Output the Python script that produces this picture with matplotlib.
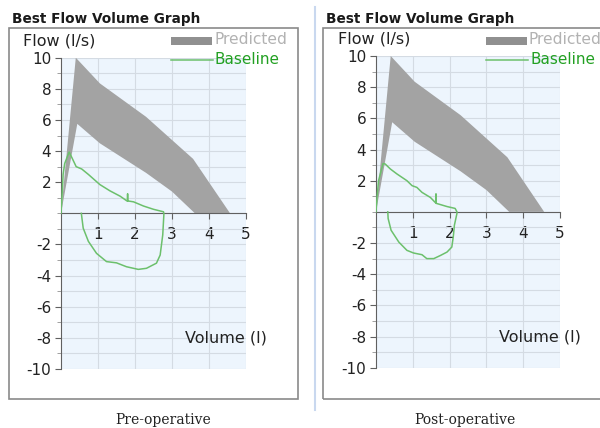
import numpy as np
import matplotlib.pyplot as plt
from matplotlib.patches import Rectangle
from matplotlib.lines import Line2D
from matplotlib.ticker import MultipleLocator, FixedLocator

# predicted band (same for both panels)
pred_upper_vol = [0.0, 0.40, 1.05, 2.30, 3.57, 4.57]
pred_upper_flow = [0.0, 10.0, 8.35, 6.2, 3.5, 0.0]
pred_lower_vol = [0.0, 0.44, 1.05, 2.30, 3.00, 3.62]
pred_lower_flow = [0.0, 5.75, 4.5, 2.6, 1.4, 0.0]

# baseline loops
pre_vol = [0.0, 0.03, 0.057, 0.10, 0.22, 0.29, 0.41, 0.56, 0.74, 1.05, 1.32, 1.60, 1.78,
           1.80, 1.80, 1.80, 1.96, 2.23, 2.50, 2.77, 2.78,
           2.78, 2.75, 2.68, 2.58, 2.31, 2.09, 1.77, 1.50, 1.23, 0.96, 0.74, 0.60, 0.56, 0.55]
pre_flow = [0.0, 1.2, 2.5, 3.2, 3.94, 3.6, 3.0, 2.85, 2.5, 1.85, 1.45, 1.1, 0.8,
            0.8, 1.25, 0.8, 0.74, 0.47, 0.26, 0.1, 0.0,
            -0.08, -1.38, -2.68, -3.2, -3.53, -3.6, -3.43, -3.18, -3.1, -2.57, -1.8, -0.95, -0.2, 0.0]

post_vol = [0.0, 0.03, 0.07, 0.19, 0.25, 0.39, 0.57, 0.84, 0.98, 1.11, 1.25, 1.48, 1.61,
            1.63, 1.63, 1.63, 1.93, 2.15, 2.20,
            2.20, 2.13, 2.10, 2.06, 1.93, 1.75, 1.57, 1.38, 1.25, 1.02, 0.84, 0.62, 0.41, 0.33, 0.32]
post_flow = [0.0, 1.0, 2.0, 3.1, 3.07, 2.75, 2.43, 2.0, 1.68, 1.57, 1.25, 0.92, 0.6,
             0.6, 1.14, 0.55, 0.34, 0.22, 0.0,
             -0.1, -0.86, -1.6, -2.26, -2.58, -2.8, -3.0, -3.0, -2.75, -2.64, -2.47, -1.94, -1.18, -0.43, 0.0]

yticks = [10, 8, 6, 4, 2, -2, -4, -6, -8, -10]
xticks = [1, 2, 3, 4, 5]

W, H = 600, 428
plt.rcParams['font.family'] = ['DejaVu Sans']
fig = plt.figure(figsize=(6, 4.28), dpi=100)

green_line = '#6cc06c'
green_text = '#22a022'
band_gray = '#a3a3a3'
text_col = '#222222'


def px(x0, y0, x1, y1):
    # pixel box -> figure fraction rect
    return [x0 / W, 1 - y1 / H, (x1 - x0) / W, (y1 - y0) / H]


def panel(x_axis0, x_axis5, y_top, y_bot, box_x0, box_x1, vol, flow, caption, cap_x):
    # outer box and heading
    fig.add_artist(Rectangle((box_x0 / W, 1 - 399 / H), (box_x1 - box_x0) / W, (399 - 28) / H,
                             transform=fig.transFigure, fill=False, edgecolor='#8a8a8a', lw=1.2))
    fig.text((box_x0 + 3) / W, 1 - 19 / H, 'Best Flow Volume Graph', fontsize=9.8,
             fontweight='bold', va='center', ha='left', color='#1a1a1a')

    ax = fig.add_axes(px(x_axis0, y_top, x_axis5, y_bot))
    ax.set_facecolor('#edf5fd')
    ax.set_xlim(0, 5)
    ax.set_ylim(-10, 10)

    poly_x = pred_upper_vol + pred_lower_vol[::-1]
    poly_y = pred_upper_flow + pred_lower_flow[::-1]
    ax.fill(poly_x, poly_y, color=band_gray, lw=0, zorder=2)
    ax.plot(vol, flow, color=green_line, lw=1.1, zorder=3)

    for s in ['top', 'right']:
        ax.spines[s].set_visible(False)
    ax.spines['bottom'].set_position(('data', 0))
    ax.spines['left'].set_color('#606060')
    ax.spines['bottom'].set_color('#606060')

    ax.yaxis.set_major_locator(FixedLocator(yticks))
    ax.yaxis.set_minor_locator(MultipleLocator(1))
    ax.xaxis.set_major_locator(FixedLocator(xticks))
    ax.tick_params(axis='y', which='major', labelsize=11, length=4, color='#606060',
                   labelcolor=text_col, pad=3)
    ax.tick_params(axis='y', which='minor', length=3, color='#909090')
    ax.tick_params(axis='x', which='major', labelsize=11, length=4, color='#606060',
                   labelcolor=text_col, pad=6)
    ax.set_yticklabels([str(t) for t in yticks])
    ax.set_xticklabels([str(t) for t in xticks])
    ax.grid(True, which='both', color='#d4dbe3', lw=0.8, zorder=0)
    ax.set_axisbelow(True)

    ax.text(-0.205, 1.054, 'Flow (l/s)', transform=ax.transAxes, fontsize=11.5,
            ha='left', va='center', color=text_col)
    ax.text(1.114, 0.1, 'Volume (l)', transform=ax.transAxes, fontsize=11.5,
            ha='right', va='center', color=text_col)

    # legend, drawn by hand at the top right of the box
    lx0 = x_axis0 + 110
    fig.add_artist(Rectangle((lx0 / W, 1 - 45 / H), 41 / W, 8 / H, transform=fig.transFigure,
                             facecolor='#909090', edgecolor='none'))
    fig.text((lx0 + 43) / W, 1 - 40 / H, 'Predicted', fontsize=11.2, color='#b2b2b2',
             ha='left', va='center')
    fig.add_artist(Line2D([lx0 / W, (lx0 + 42) / W], [1 - 60 / H, 1 - 60 / H],
                          transform=fig.transFigure, color=green_line, lw=1.1))
    fig.text((lx0 + 44) / W, 1 - 59 / H, 'Baseline', fontsize=11, color=green_text,
             ha='left', va='center')

    fig.text(cap_x / W, 1 - 420 / H, caption, fontsize=10, family='DejaVu Serif',
             ha='center', va='center', color=text_col)
    return ax


panel(61, 246, 57.7, 369, 9, 298, pre_vol, pre_flow, 'Pre-operative', 163)
panel(376, 560, 56, 367.7, 323, 640, post_vol, post_flow, 'Post-operative', 465)

fig.add_artist(Line2D([315 / W, 315 / W], [1 - 410 / H, 1 - 7 / H], transform=fig.transFigure,
                      color='#c9d8ef', lw=1.5))

fig.savefig('out.png', dpi=100)
